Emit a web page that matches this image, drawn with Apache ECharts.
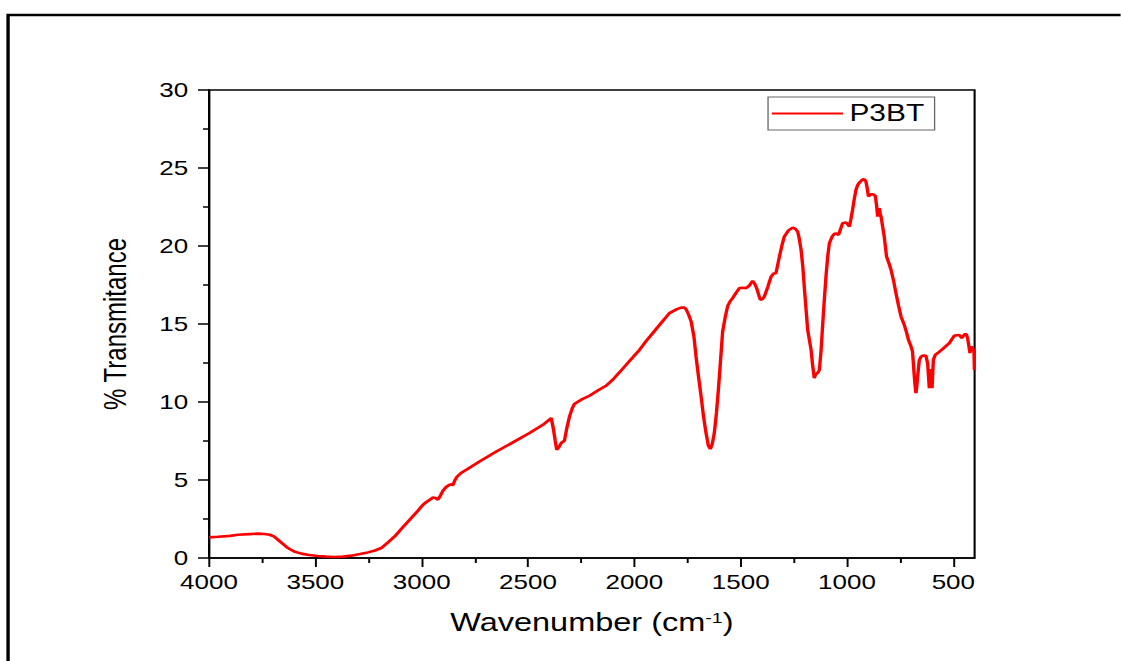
<!DOCTYPE html>
<html>
<head>
<meta charset="utf-8">
<script src="https://cdn.jsdelivr.net/npm/echarts@6.0.0/dist/echarts.min.js"></script>
<style>
  html, body { margin: 0; padding: 0; background: #fff; overflow: hidden; }
  #wrap { width: 1121px; height: 661px; overflow: hidden; position: relative; }
  #chart { width: 862.3px; height: 661px; transform: scaleX(1.3); transform-origin: 0 0; position: absolute; left: 0; top: 0; }
</style>
</head>
<body>
<div id="wrap"><div id="chart"></div></div>
<script>
// ---- data ----
const seriesName = 'P3BT';
const wavenumber = [
  4000,3958,3900,3864,3810,3770,3740,3715,3695,3676,3650,3629,3600,3566,3530,3488,3450,3409,3370,3331,
  3290,3253,3220,3190,3160,3127,3090,3049,3020,2994,2978,2960,2947,2935,2924,2912,2900,2885,2869,2860,
  2853,2845,2835,2815,2790,2728,2649,2571,2493,2430,2391,2380,2372,2365,2355,2344,2329,2318,2305,2292,
  2282,2250,2211,2170,2133,2100,2070,2039,2008,1976,1945,1914,1875,1835,1800,1780,1765,1757,1745,1733,
  1720,1710,1698,1686,1675,1663,1652,1643,1634,1624,1614,1605,1595,1585,1572,1561,1550,1538,1522,1506,
  1490,1475,1460,1444,1435,1425,1408,1398,1389,1372,1357,1345,1334,1318,1305,1295,1275,1256,1243,1232,
  1225,1216,1208,1201,1193,1185,1176,1169,1162,1154,1148,1143,1136,1130,1122,1115,1107,1099,1091,1083,
  1070,1060,1050,1040,1030,1021,1005,997,989,982,974,966,958,950,942,932,924,917,911,905,
  899,890,883,875,867,861,856,852,848,844,840,832,825,819,814,803,793,780,770,758,
  746,738,731,720,711,700,692,687,681,676,672,668,660,652,645,637,629,621,617,613,
  610,607,603,600,597,594,585,568,551,535,519,508,496,484,472,466,460,452,444,438,
  433,427,422,418,414,408,403,401
];
const transmittance = [
  1.32,1.36,1.42,1.49,1.53,1.56,1.54,1.49,1.38,1.17,0.88,0.64,0.42,0.28,0.19,0.13,0.09,0.06,0.09,0.15,
  0.25,0.36,0.48,0.64,0.98,1.38,1.95,2.56,3.0,3.41,3.59,3.75,3.88,3.85,3.73,4.0,4.31,4.55,4.70,4.72,
  4.68,4.95,5.19,5.45,5.66,6.19,6.83,7.41,8.01,8.54,8.97,8.22,7.5,6.94,7.1,7.37,7.51,8.3,9.07,9.6,
  9.87,10.15,10.40,10.75,11.04,11.45,11.9,12.38,12.85,13.34,13.9,14.41,15.05,15.70,15.95,16.05,16.05,15.95,15.6,15.16,
  14.2,12.92,11.6,10.35,9.1,8.01,7.2,6.98,7.3,8.01,9.3,10.78,12.6,14.5,15.5,16.15,16.45,16.66,17.0,17.30,
  17.32,17.30,17.45,17.76,17.6,17.30,16.55,16.6,16.76,17.4,18.04,18.24,18.26,19.32,20.1,20.60,21.0,21.18,21.1,20.92,
  20.5,19.75,18.7,17.40,16.0,14.63,13.9,13.34,12.4,11.53,11.75,11.81,11.9,12.06,13.3,14.84,16.5,18.04,19.3,20.18,
  20.6,20.78,20.8,20.71,21.1,21.46,21.50,21.4,21.24,21.7,22.31,23.0,23.6,23.9,24.06,24.2,24.28,24.25,24.13,23.7,
  23.17,23.3,23.32,23.3,23.21,22.6,21.88,22.3,22.42,22.1,21.88,21.2,20.60,19.9,19.32,18.9,18.47,17.7,16.98,16.2,
  15.48,15.2,14.95,14.45,13.98,13.6,13.24,12.27,11.2,10.57,11.0,11.63,12.70,12.9,12.96,12.98,12.96,12.49,11.7,10.89,
  11.6,12.11,11.5,10.89,11.8,12.70,13.02,13.2,13.39,13.58,13.77,14.0,14.24,14.28,14.30,14.2,14.09,14.25,14.37,14.3,
  14.09,13.6,13.13,13.4,13.56,13.4,13.24,12.06
];
const xMajorTicks = [4000, 3500, 3000, 2500, 2000, 1500, 1000, 500];
const xMinorTicks = [3750, 3250, 2750, 2250, 1750, 1250, 750];
const yTicks = [0, 5, 10, 15, 20, 25, 30];
const xTitle = 'Wavenumber (cm{sup|-1})';
const yTitle = '% Transmitance';

// ---- chart ----
const FONT = '"Liberation Sans", Arial, Helvetica, sans-serif';
const points = wavenumber.map((w, i) => [w, transmittance[i]]);
const chart = echarts.init(document.getElementById('chart'), null, { renderer: 'svg' });

const common = {
  type: 'value', min: 400, max: 4000, inverse: true,
  splitLine: { show: false }, gridIndex: 0, position: 'bottom'
};

chart.setOption({
  animation: false,
  backgroundColor: '#ffffff',
  textStyle: { fontFamily: FONT },
  grid: {
    left: 160.8, right: 112.3, top: 90, bottom: 103,
    show: true, borderColor: '#000', borderWidth: 1.6, backgroundColor: 'transparent'
  },
  legend: {
    data: [seriesName], left: 590.8, top: 97, orient: 'horizontal',
    icon: 'rect', itemWidth: 54.6, itemHeight: 2,
    padding: [5, 8, 5, 3],
    borderColor: '#666', borderWidth: 1, backgroundColor: '#fff',
    textStyle: { fontSize: 23, color: '#000', fontFamily: FONT },
    itemStyle: { color: '#ff0000' }
  },
  xAxis: [
    Object.assign({}, common, {
      name: xTitle, nameLocation: 'middle', nameGap: 52,
      nameTextStyle: {
        fontSize: 25, color: '#000', fontFamily: FONT,
        rich: { sup: { fontSize: 15, verticalAlign: 'top', lineHeight: 13, color: '#000', fontFamily: FONT } }
      },
      axisLine: { show: true, onZero: false, lineStyle: { color: '#000', width: 1.6 } },
      axisTick: { show: true, inside: false, length: 9, lineStyle: { color: '#000', width: 1.5 }, customValues: xMajorTicks },
      axisLabel: { show: true, fontSize: 20, color: '#000', margin: 14, fontFamily: FONT, customValues: xMajorTicks,
        formatter: v => String(v) }
    }),
    Object.assign({}, common, {
      axisLine: { show: false },
      axisTick: { show: true, inside: false, length: 5, lineStyle: { color: '#000', width: 1.5 }, customValues: xMinorTicks },
      axisLabel: { show: false }
    })
  ],
  yAxis: {
    type: 'value', min: 0, max: 30, interval: 5,
    name: yTitle, nameLocation: 'middle', nameGap: 60, nameRotate: 90,
    nameTextStyle: { fontSize: 24, color: '#000', fontFamily: FONT },
    splitLine: { show: false },
    axisLine: { show: true, onZero: false, lineStyle: { color: '#000', width: 1.6 } },
    axisTick: { show: true, inside: false, length: 8.5, lineStyle: { color: '#000', width: 1.5 } },
    minorTick: { show: true, splitNumber: 2, length: 4.6, lineStyle: { color: '#000', width: 1.5 } },
    axisLabel: { fontSize: 20, color: '#000', margin: 16, fontFamily: FONT,
      formatter: v => (yTicks.indexOf(v) >= 0 ? String(v) : '') }
  },
  series: [{
    name: seriesName, type: 'line', data: points, xAxisIndex: 0, yAxisIndex: 0,
    showSymbol: false, symbol: 'none', smooth: false,
    lineStyle: { color: '#ff0000', width: 2.6 },
    itemStyle: { color: '#ff0000' }
  }],
  graphic: [{
    type: 'polyline', silent: true,
    shape: { points: [[6.2, 661], [6.2, 15], [862.3, 15]] },
    style: { stroke: '#000', lineWidth: 2.6, fill: 'none' }
  }]
});
</script>
</body>
</html>
